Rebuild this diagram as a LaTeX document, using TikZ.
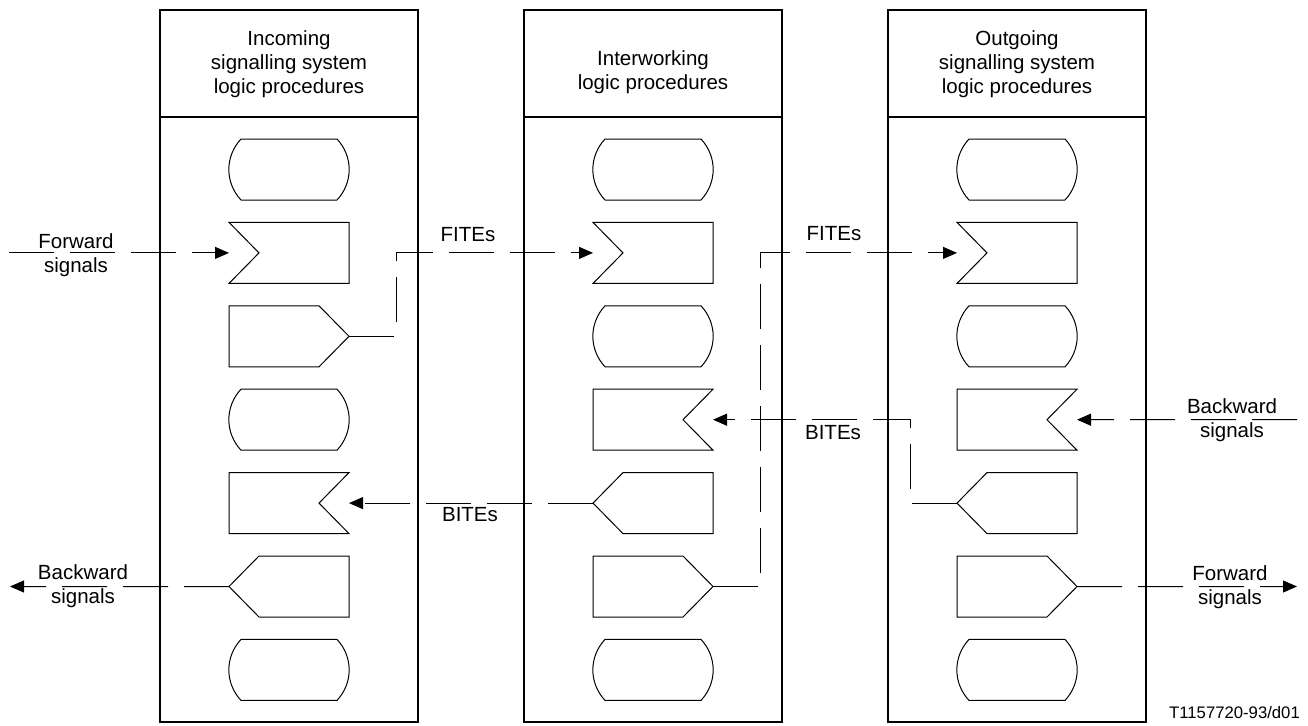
\documentclass[tikz,border=0pt]{standalone}
\usepackage{fontspec}
\setmainfont{Liberation Sans}
\usetikzlibrary{arrows.meta,calc}
\newcommand\shTerm[1]{\draw[shp] ($(#1.north west)+(12,0)$) -- ($(#1.north east)+(-12,0)$) to[bend left=43] ($(#1.south east)+(-12,0)$) -- ($(#1.south west)+(12,0)$) to[bend left=43] ($(#1.north west)+(12,0)$) -- cycle;}
\newcommand\shInL[1]{\draw[shp] (#1.north west) -- (#1.north east) -- (#1.south east) -- (#1.south west) -- ($(#1.west)+(30,0)$) -- cycle;}
\newcommand\shInR[1]{\draw[shp] (#1.north west) -- (#1.north east) -- ($(#1.east)+(-30,0)$) -- (#1.south east) -- (#1.south west) -- cycle;}
\newcommand\shOutR[1]{\draw[shp] (#1.north west) -- ($(#1.north east)+(-30,0)$) -- (#1.east) -- ($(#1.south east)+(-30,0)$) -- (#1.south west) -- cycle;}
\newcommand\shOutL[1]{\draw[shp] (#1.west) -- ($(#1.north west)+(30,0)$) -- (#1.north east) -- (#1.south east) -- ($(#1.south west)+(30,0)$) -- cycle;}
\begin{document}
\begin{tikzpicture}[x=1pt,y=1pt,
  every node/.style={font=\fontsize{20.5}{24}\selectfont},
  colbox/.style={draw, line width=1.1pt, minimum width=258pt, minimum height=712pt, inner sep=0pt, outer sep=0pt},
  slot/.style={minimum width=120pt, minimum height=61pt, inner sep=0pt, outer sep=0pt},
  shp/.style={draw, line width=1pt, line join=miter},
  sig/.style={line width=1pt, dash pattern=on 45pt off 16pt},
  tip/.style={-{Triangle[length=14pt,width=12pt]}},
  lbl/.style={align=center, inner sep=0pt}
]
\useasboundingbox (0,0) rectangle (1308,-725);
% columns
\node[colbox] (col1) at (289,-366) {};
\node[colbox] (col2) at (653,-366) {};
\node[colbox] (col3) at (1017,-366) {};
\foreach \c in {col1,col2,col3}{
  \draw[line width=1.1pt] (\c.west |- 0,-117) -- (\c.east |- 0,-117);
}
\node[lbl] (h1) at (289,-64) {Incoming\\signalling system\\logic procedures};
\node[lbl] (h2) at (653,-72) {Interworking\\logic procedures};
\node[lbl] (h3) at (1017,-64) {Outgoing\\signalling system\\logic procedures};
% slots
\foreach \c/\x in {1/289,2/653,3/1017}{
  \foreach \r in {0,...,6}{
    \node[slot] (c\c r\r) at (\x,{-169.5-83.4*\r}) {};
  }
}
% shapes column 1
\shTerm{c1r0} \shInL{c1r1} \shOutR{c1r2} \shTerm{c1r3} \shInR{c1r4} \shOutL{c1r5} \shTerm{c1r6}
% shapes column 2
\shTerm{c2r0} \shInL{c2r1} \shTerm{c2r2} \shInR{c2r3} \shOutL{c2r4} \shOutR{c2r5} \shTerm{c2r6}
% shapes column 3
\shTerm{c3r0} \shInL{c3r1} \shTerm{c3r2} \shInR{c3r3} \shOutL{c3r4} \shOutR{c3r5} \shTerm{c3r6}
% outer ends
\coordinate (fwdLs) at (9,-252.9);
\coordinate (bwdLe) at (10,-586.5);
\coordinate (bwdRs) at (1297,-419.7);
\coordinate (fwdRe) at (1297,-586.5);
% connectors
\draw[sig,tip] (fwdLs) -- (c1r1.west);
\draw[sig,tip] (c1r5.west) -- (bwdLe);
\draw[sig,tip] (c1r2.east) -- ++(47,0) |- (c2r1.west);
\draw[sig,tip] (c2r4.west) -- (c1r4.east);
\draw[sig,tip] (c2r5.east) -- ++(47,0) |- (c3r1.west);
\draw[sig,tip] (c3r4.west) -- ++(-47,0) |- (c2r3.east);
\draw[sig,tip] (bwdRs) -- (c3r3.east);
\draw[sig,tip] (c3r5.east) -- (fwdRe);
% labels
\node[lbl] (tFwdL) at (76,-255) {Forward\\signals};
\node[lbl] (tBwdL) at (83,-586) {Backward\\signals};
\node[lbl] (tBwdR) at (1232,-420) {Backward\\signals};
\node[lbl] (tFwdR) at (1230,-587) {Forward\\signals};
\node[lbl] (tF1) at (468,-235) {FITEs};
\node[lbl] (tF2) at (834,-234) {FITEs};
\node[lbl] (tB1) at (470,-515) {BITEs};
\node[lbl] (tB2) at (833,-433) {BITEs};
\node[anchor=base east, inner sep=0pt, font=\fontsize{16.7}{20}\selectfont] (tId) at (1300,-718) {T1157720-93/d01};
\end{tikzpicture}
\end{document}
